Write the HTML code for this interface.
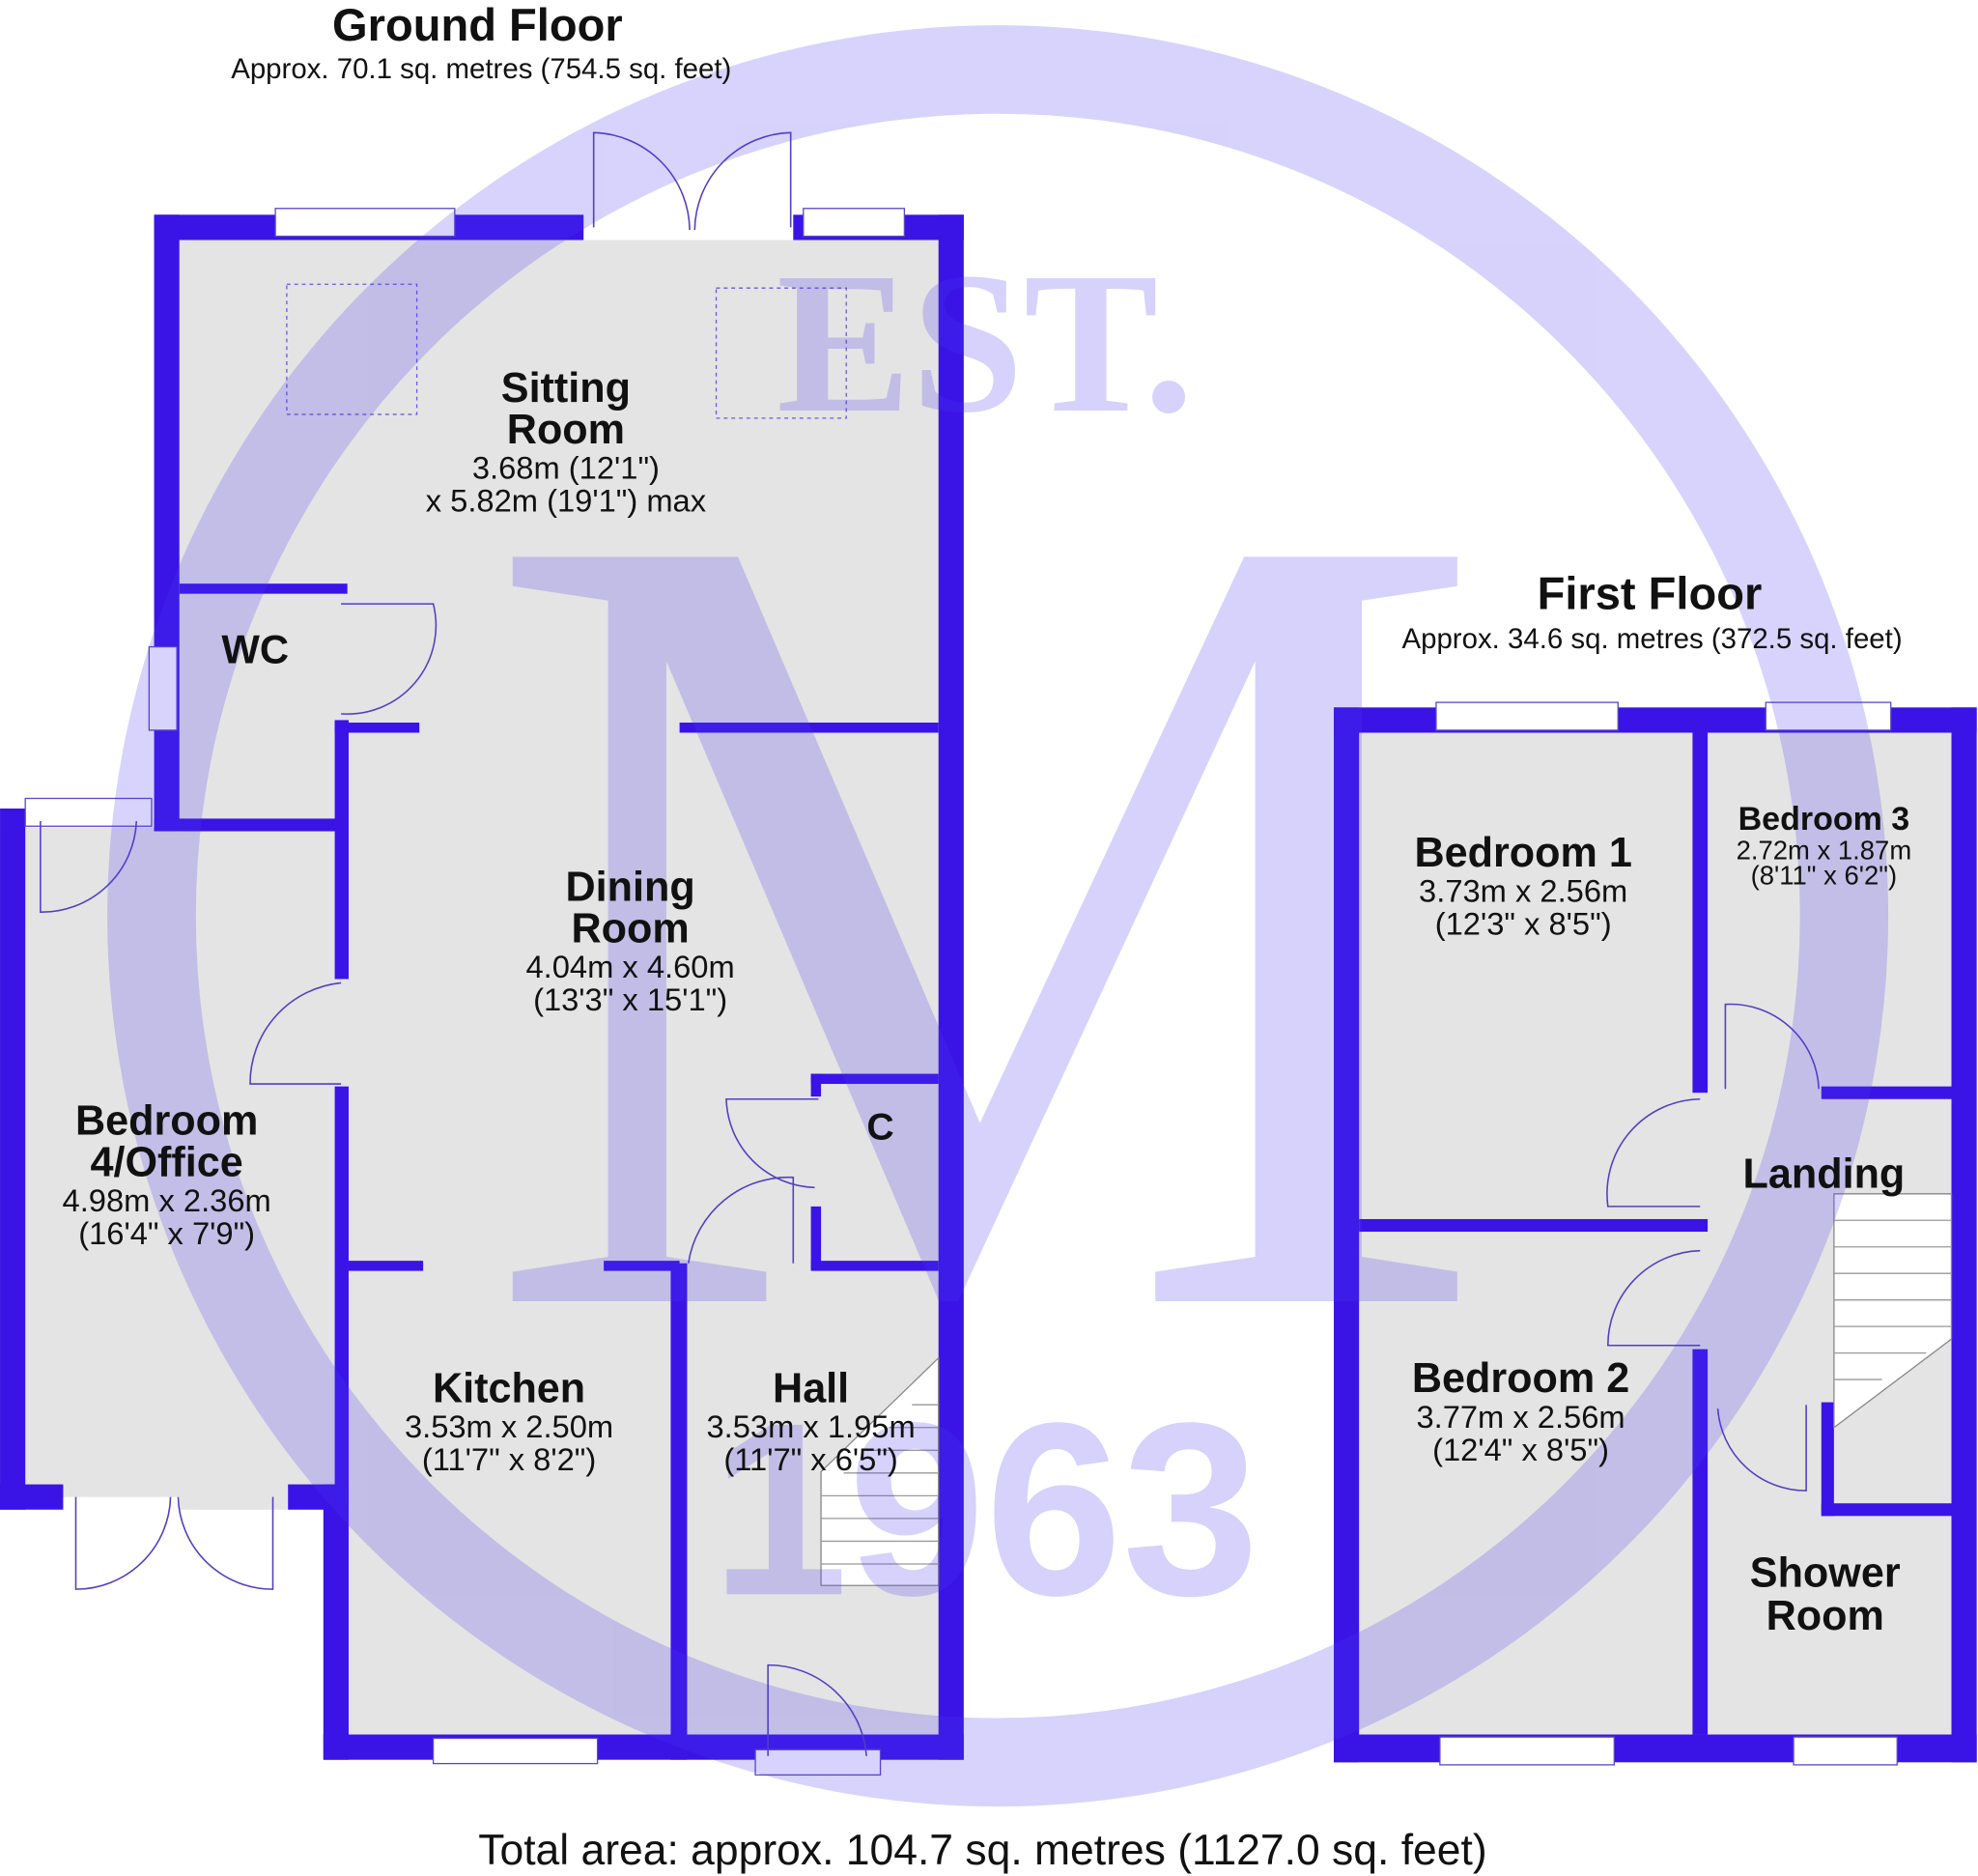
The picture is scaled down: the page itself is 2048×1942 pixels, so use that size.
<!DOCTYPE html>
<html><head><meta charset="utf-8"><style>
html,body{margin:0;padding:0;background:#fff}
svg{display:block}
text{font-family:"Liberation Sans",Arial,sans-serif;fill:#111}
.b{font-weight:bold}
</style></head><body>
<svg width="2048" height="1942" viewBox="0 0 1566 1485" xmlns="http://www.w3.org/2000/svg">
<g fill="#e4e4e4">
<rect x="142" y="190" width="601" height="1183"/>
<rect x="0" y="655" width="276" height="530"/>
<rect x="1076" y="580" width="469" height="793"/>
</g>
<rect x="0" y="0" width="142" height="462" fill="#fff"/>
<rect x="0" y="462" width="122" height="185" fill="#fff"/>
<rect x="0" y="1195" width="256" height="200" fill="#fff"/>
<g fill="#3a14e6">
<rect x="122" y="170" width="20" height="488"/>
<rect x="122" y="170" width="340" height="20"/>
<rect x="628" y="170" width="135" height="20"/>
<rect x="743" y="170" width="20" height="1223"/>
<rect x="256" y="1373" width="507" height="20"/>
<rect x="256" y="1175" width="20" height="218"/>
<rect x="0" y="640" width="20" height="555"/>
<rect x="0" y="1175" width="50" height="20"/>
<rect x="228" y="1175" width="48" height="20"/>
<rect x="142" y="462" width="133" height="8"/>
<rect x="122" y="648" width="150" height="10"/>
<rect x="265" y="570" width="11" height="205"/>
<rect x="265" y="860" width="11" height="330"/>
<rect x="265" y="572" width="67" height="8"/>
<rect x="538" y="572" width="205" height="8"/>
<rect x="642" y="850" width="101" height="8"/>
<rect x="642" y="850" width="8" height="18"/>
<rect x="642" y="955" width="8" height="50"/>
<rect x="642" y="998" width="101" height="8"/>
<rect x="276" y="998" width="59" height="8"/>
<rect x="478" y="998" width="60" height="8"/>
<rect x="531" y="1000" width="13" height="393"/>
</g>
<g fill="#3a14e6">
<rect x="1056" y="560" width="509" height="20"/>
<rect x="1056" y="1373" width="509" height="22"/>
<rect x="1056" y="560" width="20" height="835"/>
<rect x="1545" y="560" width="20" height="835"/>
<rect x="1340" y="580" width="12" height="285"/>
<rect x="1340" y="1068" width="12" height="305"/>
<rect x="1076" y="965" width="276" height="10"/>
<rect x="1442" y="860" width="103" height="10"/>
<rect x="1442" y="1110" width="10" height="90"/>
<rect x="1442" y="1190" width="103" height="10"/>
</g>
<g fill="#fff" stroke="#5a48c8" stroke-width="1">
<rect x="218" y="165" width="142" height="22"/>
<rect x="636" y="165" width="80" height="22"/>
<rect x="343" y="1376" width="130" height="20"/>
<rect x="598" y="1385" width="99" height="20"/>
<rect x="118" y="512" width="22" height="66"/>
<rect x="20" y="632" width="100" height="22"/>
<rect x="1137" y="556" width="144" height="22"/>
<rect x="1398" y="556" width="99" height="22"/>
<rect x="1140" y="1375" width="138" height="22"/>
<rect x="1420" y="1375" width="82" height="22"/>
</g>
<g fill="none" stroke="#5040c0" stroke-width="1.2">
<path d="M470 180 V105 A78 78 0 0 1 546 182"/>
<path d="M626 180 V105 A78 78 0 0 0 550 182"/>
<path d="M270 478 H343 A70 70 0 0 1 270 565"/>
<path d="M32 650 V722 A75 75 0 0 0 108 650"/>
<path d="M270 778 A80 80 0 0 0 198 858 H270"/>
<path d="M648 870 H575 A72 72 0 0 0 645 940"/>
<path d="M545 1000 A80 80 0 0 1 628 932 V1000"/>
<path d="M608 1390 V1318 A78 78 0 0 1 686 1390"/>
<path d="M60 1185 V1258 A75 75 0 0 0 135 1185"/>
<path d="M216 1185 V1258 A75 75 0 0 1 141 1185"/>
<path d="M1346 870 A75 75 0 0 0 1273 955 H1346"/>
<path d="M1346 990 A75 75 0 0 0 1273 1065 H1346"/>
<path d="M1366 862 V795 A70 70 0 0 1 1440 862"/>
<path d="M1360 1115 A70 70 0 0 0 1430 1180 V1112"/>
</g>
<g fill="none" stroke="#6a5ae0" stroke-dasharray="3,3">
<rect x="227" y="225" width="103" height="103"/>
<rect x="567" y="228" width="103" height="103"/>
</g>
<g stroke="#888" fill="#fff" stroke-width="1">
<path d="M650 1255 V1165 L743 1075 V1255 Z"/>
<path d="M1452 1130 V945 H1545 V1060 Z"/>
</g>
<g stroke="#999" stroke-width="1">
<line x1="650" y1="1238" x2="743" y2="1238"/><line x1="650" y1="1220" x2="743" y2="1220"/><line x1="650" y1="1202" x2="743" y2="1202"/><line x1="650" y1="1184" x2="743" y2="1184"/><line x1="668" y1="1166" x2="743" y2="1166"/><line x1="686" y1="1148" x2="743" y2="1148"/><line x1="704" y1="1130" x2="743" y2="1130"/><line x1="722" y1="1112" x2="743" y2="1112"/>
<line x1="1452" y1="966" x2="1545" y2="966"/><line x1="1452" y1="987" x2="1545" y2="987"/><line x1="1452" y1="1008" x2="1545" y2="1008"/><line x1="1452" y1="1029" x2="1545" y2="1029"/><line x1="1452" y1="1050" x2="1545" y2="1050"/><line x1="1452" y1="1071" x2="1525" y2="1071"/><line x1="1452" y1="1092" x2="1490" y2="1092"/>
</g>
<g opacity="0.22" fill="#4a36f0">
<path fill-rule="evenodd" d="M790 20 A705 705 0 1 1 789.9 20 Z M790 90 A635 635 0 1 0 790.1 90 Z"/>
<text x="780" y="1030" text-anchor="middle" style="font-family:'Liberation Serif',serif;font-size:900px;fill:#4a36f0">M</text>
<text x="780" y="325" text-anchor="middle" style="font-family:'Liberation Serif',serif;font-weight:bold;font-size:160px;fill:#4a36f0">EST.</text>
<text x="780" y="1262" text-anchor="middle" style="font-family:'Liberation Sans',sans-serif;font-weight:bold;font-size:195px;fill:#4a36f0">1963</text>
</g>
<text x="378" y="32" text-anchor="middle" class="b" font-size="36">Ground Floor</text>
<text x="381" y="62" text-anchor="middle" font-size="22.5">Approx. 70.1 sq. metres (754.5 sq. feet)</text>
<text x="1306" y="482" text-anchor="middle" class="b" font-size="36">First Floor</text>
<text x="1308" y="513" text-anchor="middle" font-size="22.5">Approx. 34.6 sq. metres (372.5 sq. feet)</text>
<text x="778" y="1476" text-anchor="middle" font-size="34">Total area: approx. 104.7 sq. metres (1127.0 sq. feet)</text>
<g text-anchor="middle">
<text x="448" y="318" class="b" font-size="33">Sitting</text>
<text x="448" y="351" class="b" font-size="33">Room</text>
<text x="448" y="379" font-size="25">3.68m (12'1")</text>
<text x="448" y="405" font-size="25">x 5.82m (19'1") max</text>
<text x="202" y="525" class="b" font-size="32">WC</text>
<text x="499" y="713" class="b" font-size="33">Dining</text>
<text x="499" y="746" class="b" font-size="33">Room</text>
<text x="499" y="774" font-size="25">4.04m x 4.60m</text>
<text x="499" y="800" font-size="25">(13'3" x 15'1")</text>
<text x="697" y="902" class="b" font-size="30">C</text>
<text x="132" y="898" class="b" font-size="33">Bedroom</text>
<text x="132" y="931" class="b" font-size="33">4/Office</text>
<text x="132" y="959" font-size="25">4.98m x 2.36m</text>
<text x="132" y="985" font-size="25">(16'4" x 7'9")</text>
<text x="403" y="1110" class="b" font-size="33">Kitchen</text>
<text x="403" y="1138" font-size="25">3.53m x 2.50m</text>
<text x="403" y="1164" font-size="25">(11'7" x 8'2")</text>
<text x="642" y="1110" class="b" font-size="33">Hall</text>
<text x="642" y="1138" font-size="25">3.53m x 1.95m</text>
<text x="642" y="1164" font-size="25">(11'7" x 6'5")</text>
<text x="1206" y="686" class="b" font-size="33">Bedroom 1</text>
<text x="1206" y="714" font-size="25">3.73m x 2.56m</text>
<text x="1206" y="740" font-size="25">(12'3" x 8'5")</text>
<text x="1444" y="657" class="b" font-size="26">Bedroom 3</text>
<text x="1444" y="680" font-size="21">2.72m x 1.87m</text>
<text x="1444" y="700" font-size="21">(8'11" x 6'2")</text>
<text x="1444" y="940" class="b" font-size="33">Landing</text>
<text x="1204" y="1102" class="b" font-size="33">Bedroom 2</text>
<text x="1204" y="1130" font-size="25">3.77m x 2.56m</text>
<text x="1204" y="1156" font-size="25">(12'4" x 8'5")</text>
<text x="1445" y="1256" class="b" font-size="33">Shower</text>
<text x="1445" y="1290" class="b" font-size="33">Room</text>
</g>
</svg>
</body></html>
